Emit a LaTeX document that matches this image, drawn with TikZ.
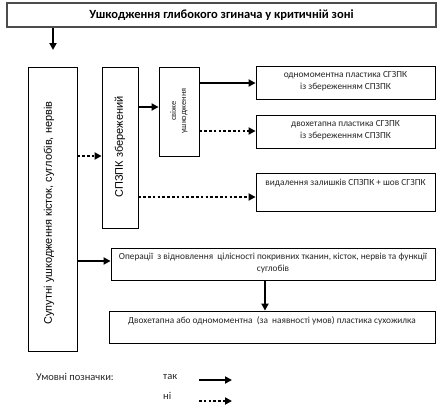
\documentclass[tikz,border=0pt]{standalone}
\usepackage{fontspec}
\setmainfont{Carlito}
\newfontfamily\arialf{Liberation Sans}
\usetikzlibrary{arrows.meta}
\tikzset{
  box/.style={draw=black, line width=0.8pt, inner sep=0pt, fill=white},
  titlebox/.style={draw=black!70, line width=1.3pt, inner sep=0pt},
  txt/.style={inner sep=0pt, align=center, text=black!85, font=\fontsize{9.3}{12}\selectfont},
  yes/.style={line width=2pt, -{Triangle[length=7pt,width=7pt]}},
  no/.style={line width=2.4pt, dash pattern=on 2.6pt off 2.2pt, -{Triangle[length=7pt,width=7pt]}},
}
\begin{document}
\begin{tikzpicture}[x=1pt,y=-1pt]
\useasboundingbox (0,0) rectangle (441,407);
% boxes
\node[titlebox, minimum width=429pt, minimum height=24pt] (title) at (221.5,15)
  {\fontsize{12.5}{14}\selectfont\bfseries Ушкодження глибокого згинача у критичній зоні};
\node[box, minimum width=49pt, minimum height=284pt] (supp) at (52.5,209) {};
\node[rotate=90, inner sep=0pt, font=\arialf\fontsize{11}{13}\selectfont] at (49,213) {Супутні ушкодження кісток, суглобів, нервів};
\node[box, minimum width=36pt, minimum height=161pt] (spzpk) at (120,147.5) {};
\node[rotate=90, inner sep=0pt, font=\arialf\fontsize{11}{13}\selectfont] at (120,147) {СПЗПК збережений};
\node[box, minimum width=40pt, minimum height=89pt] (fresh) at (179,111.5) {};
\node[rotate=90, txt, font=\fontsize{8.5}{10}\selectfont] at (179,111) {свіже\\ушкодження};
\node[box, minimum width=179pt, minimum height=33pt] (r1) at (345.5,82.5) {};
\node[txt, anchor=north] at ([yshift=-6pt]r1.north) {одномоментна пластика СГЗПК\\із збереженням СПЗПК};
\node[box, minimum width=179pt, minimum height=33pt] (r2) at (345.5,131.5) {};
\node[txt, anchor=north] at ([yshift=-6pt]r2.north) {двохетапна пластика СГЗПК\\із збереженням СПЗПК};
\node[box, minimum width=179pt, minimum height=38pt] (r3) at (345.5,192) {};
\node[txt, anchor=north] at ([yshift=-6pt]r3.north) {видалення залишків СПЗПК + шов СГЗПК};
\node[box, minimum width=324pt, minimum height=32pt] (ops) at (273,264) {};
\node[txt, anchor=north] at ([yshift=-5pt]ops.north) {Операції\ \ з відновлення\ \ цілісності покривних тканин, кісток, нервів та функції\\суглобів};
\node[box, minimum width=326pt, minimum height=32pt] (fin) at (272,327) {};
\node[txt, anchor=north] at ([yshift=-6pt]fin.north) {Двохетапна або одномоментна\ \ (за\ \ наявності умов) пластика сухожилка};
% connectors
\coordinate (t1) at (53,50);
\draw[yes] (title.south -| t1) -- (t1);
\draw[no] (supp.east |- 0,156) -- (spzpk.west |- 0,156);
\draw[yes] (spzpk.east |- 0,107) -- (fresh.west |- 0,107);
\draw[yes] (fresh.east |- 0,83) -- (r1.west |- 0,83);
\draw[no] (fresh.east |- 0,131) -- (r2.west |- 0,131);
\draw[no] (spzpk.east |- 0,197) -- (r3.west |- 0,197);
\draw[yes] (supp.east |- 0,261) -- (ops.west |- 0,261);
\draw[yes] (ops.south -| 265,0) -- (fin.north -| 265,0);
% legend
\node[txt, anchor=west, font=\fontsize{10.5}{12}\selectfont] (lg) at (36,377) {Умовні позначки:};
\node[txt, anchor=west, font=\fontsize{10.5}{12}\selectfont] (lyes) at (163,377) {так};
\node[txt, anchor=west, font=\fontsize{10.5}{12}\selectfont] (lno) at (163,396) {ні};
\coordinate (ls1) at (199,380);
\coordinate (le1) at (232,380);
\coordinate (ls2) at (199,401);
\coordinate (le2) at (232,401);
\draw[yes] (ls1) -- (le1);
\draw[no] (ls2) -- (le2);
\end{tikzpicture}
\end{document}
